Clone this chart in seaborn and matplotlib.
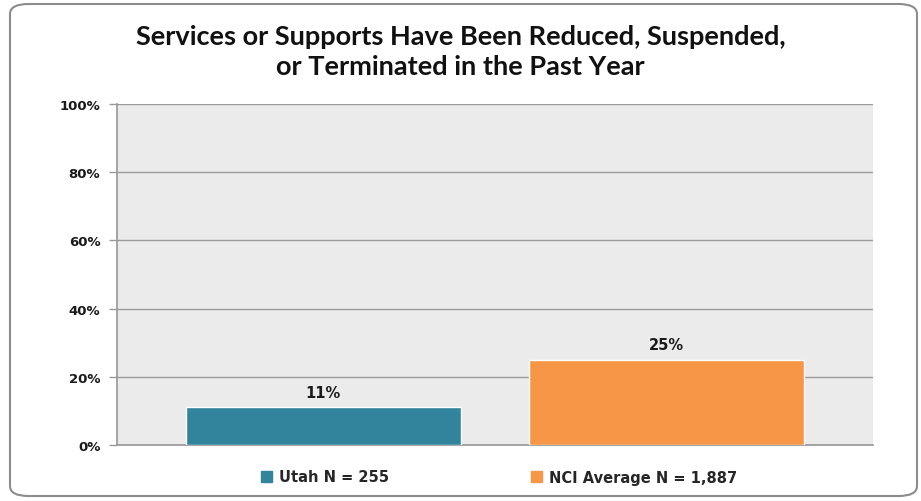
import matplotlib
matplotlib.use("Agg")
import matplotlib.pyplot as plt
from matplotlib.patches import FancyBboxPatch
import seaborn as sns
import pandas as pd

series = ["Utah N = 255", "NCI Average N = 1,887"]
values = [11, 25]
colors = ["#31849B", "#F79646"]
yticks = [0, 20, 40, 60, 80, 100]
title = "Services or Supports Have Been Reduced, Suspended,\nor Terminated in the Past Year"

sns.set_theme(style="white")
plt.rcParams["font.family"] = ["DejaVu Sans"]

df = pd.DataFrame({"series": series, "value": values})

fig = plt.figure(figsize=(9.21, 5.02), dpi=100)
ax = fig.add_axes([117 / 921, 1 - 446 / 502, (873 - 117) / 921, (446 - 105) / 502])
ax.set_facecolor("#EBEBEB")

sns.barplot(data=df, x="series", y="value", hue="series", palette=colors,
            width=0.8, ax=ax, legend=False, saturation=1, zorder=3)

ax.set_xlim(-0.6, 1.6)
ax.set_ylim(0, 100)
ax.set_yticks(yticks)
ax.set_yticklabels([f"{t}%" for t in yticks], fontsize=9.5, fontweight="bold", color="#1a1a1a")
ax.set_xticks([])
ax.set_xlabel("")
ax.set_ylabel("")
ax.yaxis.grid(True, color="#9a9a9a", linewidth=1, zorder=1)
ax.set_axisbelow(True)
ax.tick_params(axis="y", length=6, width=1, color="#9a9a9a", direction="out", left=True, pad=6)
for side in ["top", "right"]:
    ax.spines[side].set_visible(False)
ax.spines["left"].set_color("#9a9a9a")
ax.spines["bottom"].set_color("#9a9a9a")

for patch, v in zip(ax.patches, values):
    ax.text(patch.get_x() + patch.get_width() / 2, v + 2.3, f"{v}%",
            ha="center", va="bottom", fontsize=10.5, fontweight="bold", color="#1a1a1a")

fig.text(0.5, 1 - 52 / 502, title, ha="center", va="center",
         fontsize=19.5, fontweight="bold", color="#111111", linespacing=1.3,
         family="Lato")

# legend entries below the plot area, one per series
for h_left, name, c in zip([261, 531], series, colors):
    fig.legend([plt.Rectangle((0, 0), 1, 1, color=c)], [name],
               loc="center left", bbox_to_anchor=(h_left / 921, 1 - 478 / 502),
               frameon=False, handlelength=0.75, handleheight=0.75,
               handletextpad=0.45, borderpad=0, borderaxespad=0,
               prop={"family": "DejaVu Sans", "weight": "bold", "size": 10.5})

# rounded outer frame
frame = FancyBboxPatch((10 / 921, 5 / 502), (917 - 10) / 921, (497 - 5) / 502,
                       boxstyle="round,pad=0,rounding_size=0.02",
                       transform=fig.transFigure, fill=False,
                       edgecolor="#8c8c8c", linewidth=1.5)
fig.patches.append(frame)

fig.savefig("out.png", dpi=100)
